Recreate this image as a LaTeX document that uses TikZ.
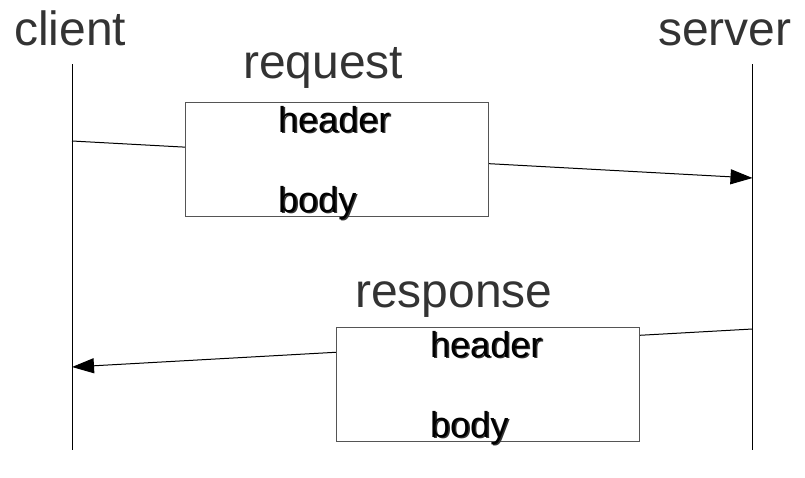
\documentclass[tikz,border=0pt]{standalone}
\usepackage{fontspec}
\setmainfont{Liberation Sans}
\usetikzlibrary{arrows.meta}
\definecolor{labelgray}{HTML}{333333}
\definecolor{boxgray}{HTML}{555555}
\tikzset{
  lifeline/.style={draw=black, line width=1pt},
  msg/.style={draw=black, line width=1pt, -{Triangle[length=22pt,width=15pt]}},
  msgbox/.style={draw=boxgray, line width=1pt, fill=white, minimum width=303pt, minimum height=114pt, inner sep=0pt},
  biglabel/.style={anchor=base west, inner sep=0pt, text=labelgray, font=\fontsize{48}{57}\selectfont},
  parttext/.style={anchor=base west, inner sep=0pt, text=black, font=\fontsize{36}{43}\selectfont},
  partshadow/.style={anchor=base west, inner sep=0pt, text=black!80, font=\fontsize{36}{43}\selectfont},
}
\begin{document}
\begin{tikzpicture}[x=1pt,y=-1pt]
\useasboundingbox (0,0) rectangle (805,477);
% lifelines
\coordinate (ctop) at (72,64);
\coordinate (cbot) at (72,450);
\coordinate (stop) at (752.5,64);
\coordinate (sbot) at (752.5,450);
\draw[lifeline] (ctop) -- (cbot);
\draw[lifeline] (stop) -- (sbot);
% message anchor points
\coordinate (c1) at (72,141);
\coordinate (s1) at (752.5,178);
\coordinate (s2) at (752.5,329);
\coordinate (c2) at (72,367);
\draw[msg] (c1) -- (s1);
\draw[msg] (s2) -- (c2);
% boxes
\node[msgbox] (req) at (336.5,159) {};
\node[msgbox] (resp) at (488,384.5) {};
% labels
\node[biglabel] (client) at (14,45) {client};
\node[biglabel] (server) at (658,45) {server};
\node[biglabel] (request) at (243,78) {request};
\node[biglabel] (response) at (355,307) {response};
% parts with shadow
\node[partshadow] (h1s) at (279.5,133.5) {header};
\node[parttext] (h1) at (278,132) {header};
\node[partshadow] (b1s) at (279.5,213.5) {body};
\node[parttext] (b1) at (278,212) {body};
\node[partshadow] (h2s) at (431.5,358.5) {header};
\node[parttext] (h2) at (430,357) {header};
\node[partshadow] (b2s) at (431.5,438.5) {body};
\node[parttext] (b2) at (430,437) {body};
\end{tikzpicture}
\end{document}
